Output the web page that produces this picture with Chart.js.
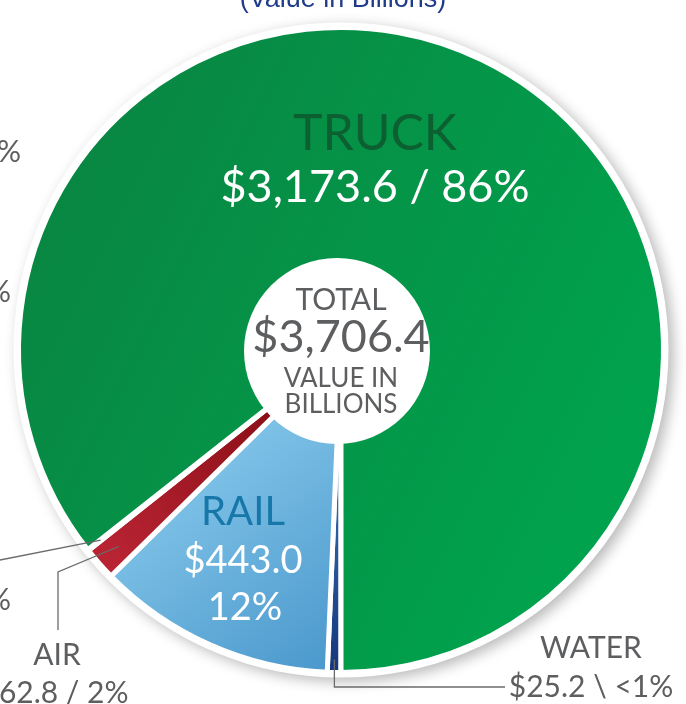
<!DOCTYPE html>
<html lang="en">
<head>
    <meta charset="UTF-8">
    <title>Value in Billions by Mode</title>
    <script src="https://cdn.jsdelivr.net/npm/chart.js"></script>
    <style>
        html, body {
            margin: 0;
            padding: 0;
            overflow: hidden;
            background: linear-gradient(180deg, #f1f4fa 0%, #f6f7fb 100%);
        }
        #modeChart {
            position: absolute;
            left: 0;
            top: 0;
        }
    </style>
</head>
<body>
    <canvas id="modeChart" width="686" height="704"></canvas>

    <script>
        // data (value in billions)
        const modes = ['WATER', 'RAIL', 'AIR', 'OTHER', 'TRUCK'];
        const values = [25.2, 443.0, 62.8, 1.8, 3173.6];
        const shares = ['<1%', '12%', '2%', '<1%', '86%'];
        const totalValue = 3706.4;

        // slice colours (gradient start / end)
        const colorFrom = ['#3a76b3', '#90d0f0', '#b92433', '#dba21f', '#0a8241'];
        const colorTo   = ['#15367c', '#4896cb', '#8b0f18', '#c98e14', '#00a24d'];

        const gray = '#5d5e60';
        const font = (size) => size + 'px Lato, "Open Sans", sans-serif';
        const money = (v) => '$' + v.toLocaleString('en-US', { minimumFractionDigits: 1 });

        function sliceColor(c) {
            const chart = c.chart;
            const area = chart.chartArea;
            if (!area) return colorFrom[c.dataIndex];
            const cx = (area.left + area.right) / 2;
            const cy = (area.top + area.bottom) / 2;
            const r = (area.right - area.left) / 2;
            const g = chart.ctx;
            let grad;
            switch (c.dataIndex) {
                case 0: grad = g.createLinearGradient(cx, cy + 90, cx, cy + r); break;
                case 1: grad = g.createLinearGradient(cx - 200, cy + 60, cx, cy + r); break;
                case 2: grad = g.createLinearGradient(cx - 240, cy + 200, cx - 70, cy + 60); break;
                case 3: grad = g.createLinearGradient(cx - 250, cy + 160, cx - 70, cy + 50); break;
                default: grad = g.createLinearGradient(cx - r, cy - r, cx + r, cy); break;
            }
            grad.addColorStop(0, colorFrom[c.dataIndex]);
            grad.addColorStop(1, colorTo[c.dataIndex]);
            return grad;
        }

        function text(ctx, str, x, y, size, color, align) {
            ctx.font = font(size);
            ctx.fillStyle = color;
            ctx.textAlign = align || 'center';
            ctx.textBaseline = 'alphabetic';
            ctx.fillText(str, x, y);
        }

        // point on a slice, at its middle angle
        function onSlice(arc, rFactor) {
            const a = (arc.startAngle + arc.endAngle) / 2;
            const r = arc.outerRadius * rFactor;
            return [arc.x + Math.cos(a) * r, arc.y + Math.sin(a) * r];
        }

        const decor = {
            id: 'decor',
            beforeDatasetsDraw(chart) {
                const arc = chart.getDatasetMeta(0).data[0];
                const ctx = chart.ctx;
                ctx.save();
                ctx.shadowColor = 'rgba(0,0,0,0.28)';
                ctx.shadowBlur = 14;
                ctx.shadowOffsetX = 5;
                ctx.shadowOffsetY = 4;
                ctx.fillStyle = '#ffffff';
                ctx.beginPath();
                ctx.arc(arc.x, arc.y, arc.outerRadius + 5, 0, Math.PI * 2);
                ctx.fill();
                ctx.restore();
            },
            afterDatasetsDraw(chart) {
                const arcs = chart.getDatasetMeta(0).data;
                const ctx = chart.ctx;
                const cx = arcs[0].x, cy = arcs[0].y;
                ctx.save();

                // white total disc
                ctx.fillStyle = '#ffffff';
                ctx.beginPath();
                ctx.arc(cx - 4, cy + 1, 93, 0, Math.PI * 2);
                ctx.fill();

                text(ctx, 'TOTAL', cx, cy - 40, 30, gray);
                text(ctx, money(totalValue), cx, cy + 2, 45, gray);
                text(ctx, 'VALUE IN', cx, cy + 37, 26, gray);
                text(ctx, 'BILLIONS', cx, cy + 63, 26, gray);

                // truck
                text(ctx, modes[4], cx + 34, cy - 200, 50, '#0c5f30');
                text(ctx, money(values[4]) + ' / ' + shares[4], cx + 34, cy - 148, 45, '#ffffff');

                // rail
                text(ctx, modes[1], cx - 98, cy + 175, 40, '#1677a8');
                text(ctx, money(values[1]), cx - 98, cy + 223, 38, '#ffffff');
                text(ctx, shares[1], cx - 96, cy + 270, 38, '#ffffff');

                // leader lines
                ctx.strokeStyle = '#6a6b6d';
                ctx.lineWidth = 1.3;

                let p = onSlice(arcs[0], 0.96);
                ctx.beginPath();
                ctx.moveTo(p[0], p[1]);
                ctx.lineTo(p[0], cy + 337);
                ctx.lineTo(cx + 164, cy + 337);
                ctx.stroke();

                p = onSlice(arcs[2], 0.92);
                ctx.beginPath();
                ctx.moveTo(p[0], p[1]);
                ctx.lineTo(58, cy + 222);
                ctx.lineTo(58, cy + 280);
                ctx.stroke();

                p = onSlice(arcs[3], 0.95);
                ctx.beginPath();
                ctx.moveTo(p[0], p[1]);
                ctx.lineTo(0, cy + 210);
                ctx.stroke();

                // outside labels
                text(ctx, modes[0], cx + 250, cy + 308, 30, gray);
                text(ctx, money(values[0]) + ' \\ ' + shares[0], cx + 250, cy + 347, 30, gray);

                text(ctx, modes[2], 57, cy + 315, 30, gray);
                text(ctx, money(values[2]) + ' / ' + shares[2], 55, cy + 353, 30, gray);

                // the other-modes label sits mostly left of the frame
                text(ctx, modes[3], -40, cy + 225, 30, gray, 'right');
                text(ctx, money(values[3]) + ' / ' + shares[3], 11, cy + 260, 30, gray, 'right');

                // fragments of neighbouring labels, cut by the frame
                text(ctx, '%', 21, 162, 30, gray, 'right');
                text(ctx, '%', 11, 302, 30, gray, 'right');

                // heading, mostly above the frame
                ctx.font = '27px "Liberation Sans", Arial, sans-serif';
                ctx.fillStyle = '#1f3c8a';
                ctx.textAlign = 'center';
                ctx.fillText('(Value in Billions)', 343, 7);

                ctx.restore();
            }
        };

        const ctx = document.getElementById('modeChart').getContext('2d');
        const chart = new Chart(ctx, {
            type: 'pie',
            data: {
                labels: modes,
                datasets: [{
                    data: values,
                    backgroundColor: sliceColor,
                    borderColor: '#ffffff',
                    borderWidth: 5
                }]
            },
            options: {
                responsive: false,
                animation: false,
                rotation: 180,
                layout: { padding: { left: 16, right: 20, top: 25, bottom: 29 } },
                plugins: {
                    legend: { display: false },
                    tooltip: { enabled: false }
                }
            },
            plugins: [decor]
        });
    </script>
</body>
</html>
